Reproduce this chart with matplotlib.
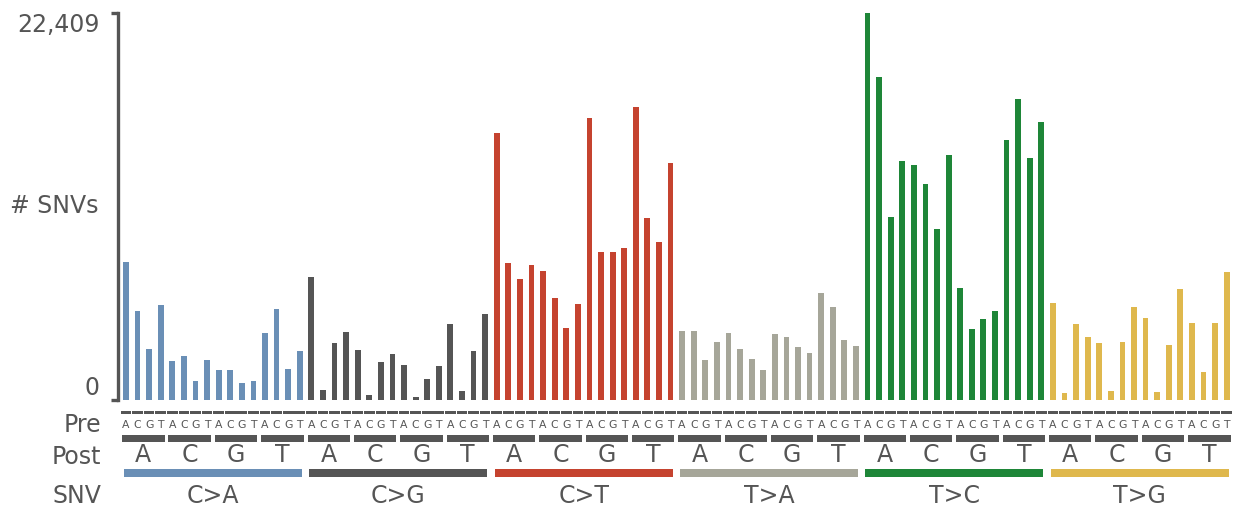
import matplotlib
matplotlib.use("Agg")
import matplotlib.pyplot as plt
from matplotlib.patches import Rectangle

W, H = 1238, 507
DPI = 100

snv_types = ["C>A", "C>G", "C>T", "T>A", "T>C", "T>G"]
bases = ["A", "C", "G", "T"]
colors = ["#6a8fb6", "#555555", "#c5432f", "#a6a699", "#1e8638", "#dfb84d"]

ymax = 22409
ytick_labels = ["0", "22,409"]

ca = [7978, 5177, 2936, 5525, 2241, 2531, 1120, 2318, 1719, 1739, 985, 1082, 3864, 5254, 1777, 2840]
cg = [7148, 560, 3323, 3922, 2878, 270, 2222, 2685, 2048, 193, 1198, 1951, 4424, 522, 2820, 5003]
ct = [15435, 7920, 7032, 7804, 7495, 5931, 4192, 5544, 16304, 8596, 8596, 8828, 16961, 10548, 9137, 13696]
ta = [3999, 3999, 2299, 3342, 3864, 2975, 2395, 1739, 3825, 3632, 3091, 2743, 6220, 5370, 3458, 3110]
tc = [22409, 18700, 10586, 13851, 13619, 12518, 9929, 14179, 6491, 4095, 4694, 5139, 15068, 17425, 13986, 16111]
tg = [5602, 386, 4385, 3632, 3323, 522, 3361, 5390, 4733, 444, 3168, 6414, 4443, 1623, 4482, 7437]
groups = [ca, cg, ct, ta, tc, tg]

TXT = "#555555"
plt.rcParams['font.family'] = ['DejaVu Sans']

fig = plt.figure(figsize=(W / DPI, H / DPI), dpi=DPI)

x_left_px, x_right_px = 117.5, 1232.5
ax_bottom_px, ax_top_px = 400, 13
left = x_left_px / W
width = (x_right_px - x_left_px) / W
ax = fig.add_axes([left, 1 - ax_bottom_px / H, width, (ax_bottom_px - ax_top_px) / H])

xs, hs, cs = [], [], []
for g, vals in enumerate(groups):
    for i, v in enumerate(vals):
        xs.append(g * 16 + i)
        hs.append(v)
        cs.append(colors[g])
ax.bar(xs, hs, width=0.5, color=cs, linewidth=0)
ax.set_xlim(-0.73, 95.5)
ax.set_ylim(0, ymax)
for s in ["top", "right", "bottom"]:
    ax.spines[s].set_visible(False)
ax.spines["left"].set_color(TXT)
ax.spines["left"].set_linewidth(2.4)
ax.set_xticks([])
ax.set_yticks([0, ymax])
ax.set_yticklabels([])
ax.tick_params(axis="y", length=5, width=2.4, color=TXT)

def fx(px):
    return px / W

def fy(py):
    return 1 - py / H

fs = 17
fig.text(fx(100), fy(32), ytick_labels[1], ha="right", va="baseline", fontsize=fs, color=TXT)
fig.text(fx(100), fy(395), ytick_labels[0], ha="right", va="baseline", fontsize=fs, color=TXT)
fig.text(fx(98), fy(213), "# SNVs", ha="right", va="baseline", fontsize=fs, color=TXT)
fig.text(fx(101), fy(432), "Pre", ha="right", va="baseline", fontsize=fs, color=TXT)
fig.text(fx(101), fy(464), "Post", ha="right", va="baseline", fontsize=fs, color=TXT)
fig.text(fx(101), fy(503), "SNV", ha="right", va="baseline", fontsize=fs, color=TXT)

# annotation axes in pixel y units
top_px, bot_px = 402, 507
ax2 = fig.add_axes([left, 1 - bot_px / H, width, (bot_px - top_px) / H])
ax2.set_xlim(-0.73, 95.5)
ax2.set_ylim(bot_px, top_px)
ax2.axis("off")

for i in range(96):
    ax2.add_patch(Rectangle((i - 0.46, 410.8), 0.92, 3.6, color=TXT, linewidth=0))
    ax2.text(i, 428.5, bases[i % 4], ha="center", va="baseline", fontsize=7.8, color=TXT)
for j in range(24):
    c = j * 4 + 1.5
    ax2.add_patch(Rectangle((c - 1.83, 435), 3.66, 7.2, color=TXT, linewidth=0))
    ax2.text(c, 462, bases[j % 4], ha="center", va="baseline", fontsize=fs, color=TXT)
for g in range(6):
    c = g * 16 + 7.5
    ax2.add_patch(Rectangle((c - 7.68, 469), 15.36, 8.2, color=colors[g], linewidth=0))
    ax2.text(c, 503, snv_types[g], ha="center", va="baseline", fontsize=fs, color=TXT)

fig.savefig("out.png", dpi=DPI)
